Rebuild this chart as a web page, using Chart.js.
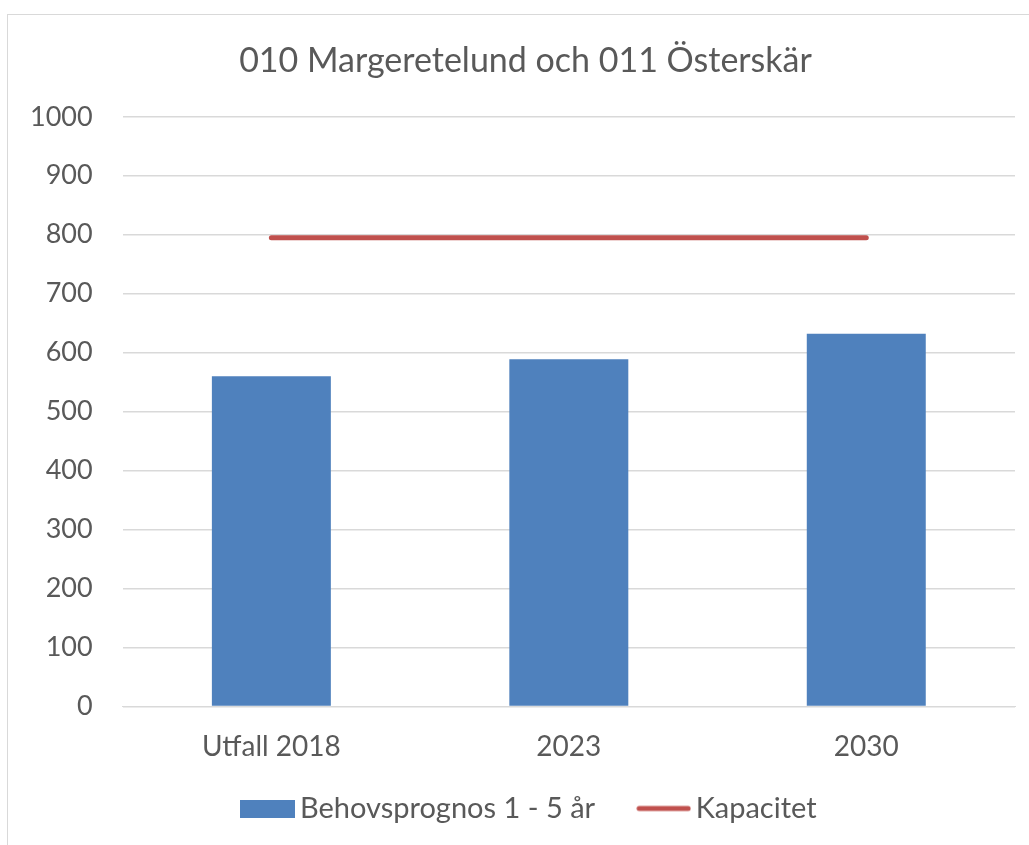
<!DOCTYPE html>
<html>
<head>
<meta charset="utf-8">
<script src="https://cdn.jsdelivr.net/npm/chart.js@4"></script>
<style>
  html, body { margin: 0; padding: 0; background: #fff; }
  #wrap { position: relative; width: 1029px; height: 845px; }
  #frame { position: absolute; left: 7px; top: 14px; width: 1040px; height: 860px; border: 1px solid #d9d9d9; }
  canvas { position: absolute; left: 0; top: 0; }
</style>
</head>
<body>
<div id="wrap">
  <div id="frame"></div>
  <canvas id="chart" width="1029" height="845"></canvas>
</div>
<script>
// chart data
const categories = ['Utfall 2018', '2023', '2030'];
const behov = [560, 589, 632];
const kapacitet = [795, 795, 795];
const yTicks = [0, 100, 200, 300, 400, 500, 600, 700, 800, 900, 1000];

const blue = '#4F81BD';
const red = '#C0504D';
const grey = '#595959';
const font = 'Lato, "Open Sans", sans-serif';

// small pictures for the legend markers
const makeMarker = (draw) => {
    const c = document.createElement('canvas');
    c.width = 55;
    c.height = 18;
    draw(c.getContext('2d'));
    return c;
}
const boxMarker = makeMarker((ctx) => {
    ctx.fillStyle = blue;
    ctx.fillRect(0, 0, 55, 18);
});
const lineMarker = makeMarker((ctx) => {
    ctx.strokeStyle = red;
    ctx.lineWidth = 5;
    ctx.lineCap = 'round';
    ctx.beginPath();
    ctx.moveTo(3, 9);
    ctx.lineTo(52, 9);
    ctx.stroke();
});

// nudge title and legend to where they sit in the original
const nudge = {
    id: 'nudge',
    afterLayout: (ch) => {
        ch.legend.top -= 37;
        ch.legend.bottom -= 37;
        ch.legend.left += 26;
        ch.legend.right += 26;
        ch.titleBlock.left += 18;
        ch.titleBlock.right += 18;
    }
};

const chart = new Chart(document.getElementById('chart'), {
    data: {
        labels: categories,
        datasets: [{
            type: 'line',
            label: 'Kapacitet',
            data: kapacitet,
            borderColor: red,
            backgroundColor: red,
            borderWidth: 5,
            borderCapStyle: 'round',
            pointRadius: 0,
            order: 0
        }, {
            type: 'bar',
            label: 'Behovsprognos 1 - 5 år',
            data: behov,
            backgroundColor: blue,
            categoryPercentage: 1,
            barPercentage: 0.4,
            order: 1
        }]
    },
    options: {
        responsive: false,
        animation: false,
        layout: {
            padding: { left: 0, right: 14, top: 22, bottom: -25 }
        },
        plugins: {
            title: {
                display: true,
                text: '010 Margeretelund och 011 Österskär',
                color: grey,
                font: { family: font, size: 34, weight: 'normal' },
                padding: { top: 19, bottom: 35 }
            },
            legend: {
                position: 'bottom',
                labels: {
                    color: grey,
                    font: { family: font, size: 29 },
                    usePointStyle: true,
                    pointStyleWidth: 35,
                    boxHeight: 18,
                    padding: 51,
                    // bar first, then the line
                    generateLabels: (ch) => ch.data.datasets.map((ds, i) => ({
                        text: ds.label,
                        fontColor: grey,
                        pointStyle: ds.type === 'bar' ? boxMarker : lineMarker,
                        lineWidth: 0,
                        strokeStyle: 'transparent',
                        fillStyle: 'transparent',
                        datasetIndex: i
                    })).reverse()
                }
            },
            tooltip: { enabled: false }
        },
        scales: {
            x: {
                grid: { display: false },
                border: { color: '#d9d9d9' },
                ticks: {
                    color: grey,
                    font: { family: font, size: 28 },
                    padding: 16
                }
            },
            y: {
                min: 0,
                max: 1000,
                afterBuildTicks: (axis) => {
                    axis.ticks = yTicks.map((v) => ({ value: v }));
                },
                grid: { color: '#d9d9d9', lineWidth: 1.5, drawTicks: false },
                border: { display: false },
                ticks: {
                    color: grey,
                    font: { family: font, size: 27 },
                    padding: 30,
                    callback: (v) => String(v)
                }
            }
        }
    },
    plugins: [nudge]
});
</script>
</body>
</html>
